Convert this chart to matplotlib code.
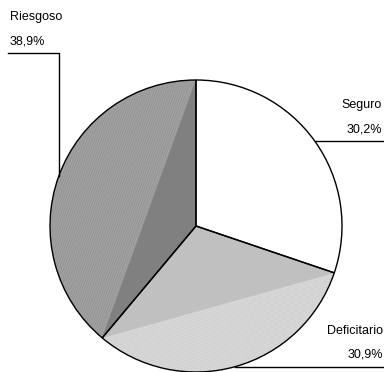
import numpy as np
import matplotlib.pyplot as plt
from matplotlib.patches import Polygon

labels = ["Seguro", "Deficitario", "Riesgoso"]
shares = [30.2, 30.9, 38.9]
pct_text = ["30,2%", "30,9%", "38,9%"]

# flat colour of the inner triangle, colour of the outer rim and its stripes
inner_colors = ["#ffffff", "#c0c0c0", "#808080"]
rim_colors = ["#ffffff", "#d0d0d0", "#969696"]
stripe_colors = ["#ffffff", "#dcdcdc", "#a6a6a6"]

W, H = 384, 372
fig = plt.figure(figsize=(W / 100, H / 100), dpi=100)
ax = fig.add_axes([0, 0, 1, 1])

cx, cy, r = 196, H - 226, 146

# rim colour for the whole wedge
rims, _ = ax.pie(shares, colors=rim_colors, startangle=90, counterclock=False,
                 center=(cx, cy), radius=r, wedgeprops=dict(linewidth=0))

def edge_pt(a):
    return cx + r * np.cos(np.radians(a)), cy + r * np.sin(np.radians(a))

# inner triangles (centre + both arc end points) and striped rim
start = 90.0
for s, col, scol, wedge in zip(shares, inner_colors, stripe_colors, rims):
    end = start - s / 100 * 360
    p1 = np.array(edge_pt(start))
    p2 = np.array(edge_pt(end))
    ax.add_patch(Polygon([(cx, cy), p1, p2], closed=True, facecolor=col,
                         edgecolor="none", zorder=2))
    # thin stripes parallel to the chord, out towards the arc
    chord = p2 - p1
    nrm = np.array([chord[1], -chord[0]]) / np.linalg.norm(chord)
    mid = np.radians((start + end) / 2)
    if np.dot(nrm, [np.cos(mid), np.sin(mid)]) < 0:
        nrm = -nrm
    for d in np.arange(1.5, r, 2.2):
        a = p1 + nrm * d - chord * 0.2
        b = p2 + nrm * d + chord * 0.2
        ln, = ax.plot([a[0], b[0]], [a[1], b[1]], color=scol, lw=0.6, zorder=1.5)
        ln.set_clip_path(wedge)
    start = end

# outlines
ax.pie(shares, colors=["none"] * 3, startangle=90, counterclock=False,
       center=(cx, cy), radius=r,
       wedgeprops=dict(edgecolor="black", linewidth=1.0, zorder=3))

# leader lines and labels
fs = 9
font = "Liberation Sans"
start = 90.0
mids = []
for s in shares:
    mids.append(start - s / 200 * 360)
    start -= s / 100 * 360

# Seguro
x0, y0 = edge_pt(mids[0])
ax.plot([x0, W], [y0, y0], color="black", lw=1.0, zorder=4)
ax.text(382, y0 + 5, pct_text[0], ha="right", va="bottom", fontsize=fs, family=font)
ax.text(382, y0 + 30, labels[0], ha="right", va="bottom", fontsize=fs, family=font)

# Deficitario
x0, y0 = edge_pt(mids[1])
ax.plot([x0, W], [y0, y0], color="black", lw=1.0, zorder=4)
ax.text(383, y0 + 6, pct_text[1], ha="right", va="bottom", fontsize=fs, family=font)
ax.text(383, y0 + 30, labels[1], ha="right", va="bottom", fontsize=fs, family=font)

# Riesgoso
x0, y0 = edge_pt(mids[2])
yl = H - 53
ax.plot([8, x0, x0], [yl, yl, y0], color="black", lw=1.0, zorder=4)
ax.text(10, yl + 5, pct_text[2], ha="left", va="bottom", fontsize=fs, family=font)
ax.text(10, yl + 30, labels[2], ha="left", va="bottom", fontsize=fs, family=font)

ax.set_xlim(0, W)
ax.set_ylim(0, H)
ax.set_aspect("auto")
ax.axis("off")

fig.savefig("out.png", dpi=100)
